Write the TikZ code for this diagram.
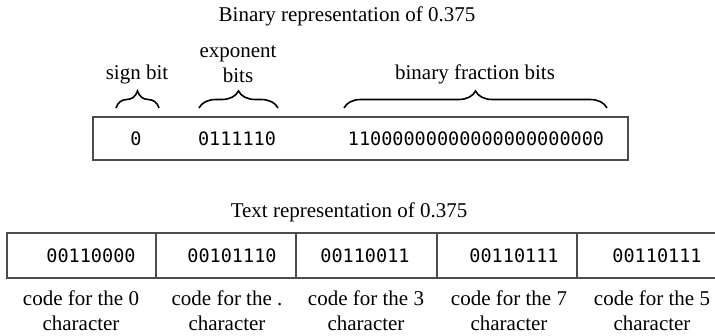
\documentclass[tikz,border=0pt]{standalone}
\usepackage{fontspec}
\setmainfont{Liberation Serif}
\newfontfamily\bitfont{DejaVu Sans Mono}
\usetikzlibrary{decorations.pathreplacing}
\begin{document}
\begin{tikzpicture}[x=1pt,y=-1pt,
  lbl/.style={font=\fontsize{21}{25}\selectfont, inner sep=0pt, align=center},
  bits/.style={font=\bitfont\fontsize{18.5}{20}\selectfont, inner sep=0pt},
  frame/.style={draw=black!70, line width=2.5pt, inner sep=0pt},
  brc/.style={decorate, decoration={brace, amplitude=17pt}, line width=1.6pt}]
\useasboundingbox (0,0) rectangle (715,335);
\clip (0,0) rectangle (715,335);

% ---- binary representation ----
\node[lbl] (t1) at (347,16) {Binary representation of 0.375};
\node[frame, minimum width=535pt, minimum height=43pt] (binbox) at (360.5,138.5) {};
\node[bits] (sb) at (136,139) {0};
\node[bits] (ex) at (237,139) {0111110};
\node[bits] (fr) at (476,139) {11000000000000000000000};

\coordinate (b1l) at (116,108); \coordinate (b1r) at (159,108);
\coordinate (b2l) at (199,108); \coordinate (b2r) at (278,108);
\coordinate (b3l) at (344,108); \coordinate (b3r) at (607,108);
\draw[brc] (b1l) -- (b1r);
\draw[brc] (b2l) -- (b2r);
\draw[brc] (b3l) -- (b3r);

\node[lbl] (ls) at (137,74) {sign bit};
\node[lbl] (le) at (238,64) {exponent\\bits};
\node[lbl] (lf) at (475,74) {binary fraction bits};

% ---- text representation ----
\node[lbl] (t2) at (349,212) {Text representation of 0.375};
\node[frame, minimum width=149pt, minimum height=45pt] (c1) at (81.5,255.5) {};
\node[frame, minimum width=140pt, minimum height=45pt] (c2) at (226,255.5) {};
\node[frame, minimum width=141pt, minimum height=45pt] (c3) at (366.5,255.5) {};
\node[frame, minimum width=140pt, minimum height=45pt] (c4) at (507,255.5) {};
\node[frame, minimum width=145pt, minimum height=45pt] (c5) at (649.5,255.5) {};

\node[bits] (d1) at (91,256) {00110000};
\node[bits] (d2) at (232,256) {00101110};
\node[bits] (d3) at (365,256) {00110011};
\node[bits] (d4) at (514,256) {00110111};
\node[bits] (d5) at (657,256) {00110111};

\node[lbl] (k1) at (81,311) {code for the 0\\character};
\node[lbl] (k2) at (227,311) {code for the .\\character};
\node[lbl] (k3) at (366,311) {code for the 3\\character};
\node[lbl] (k4) at (509,311) {code for the 7\\character};
\node[lbl] (k5) at (652,311) {code for the 5\\character};
\end{tikzpicture}
\end{document}
